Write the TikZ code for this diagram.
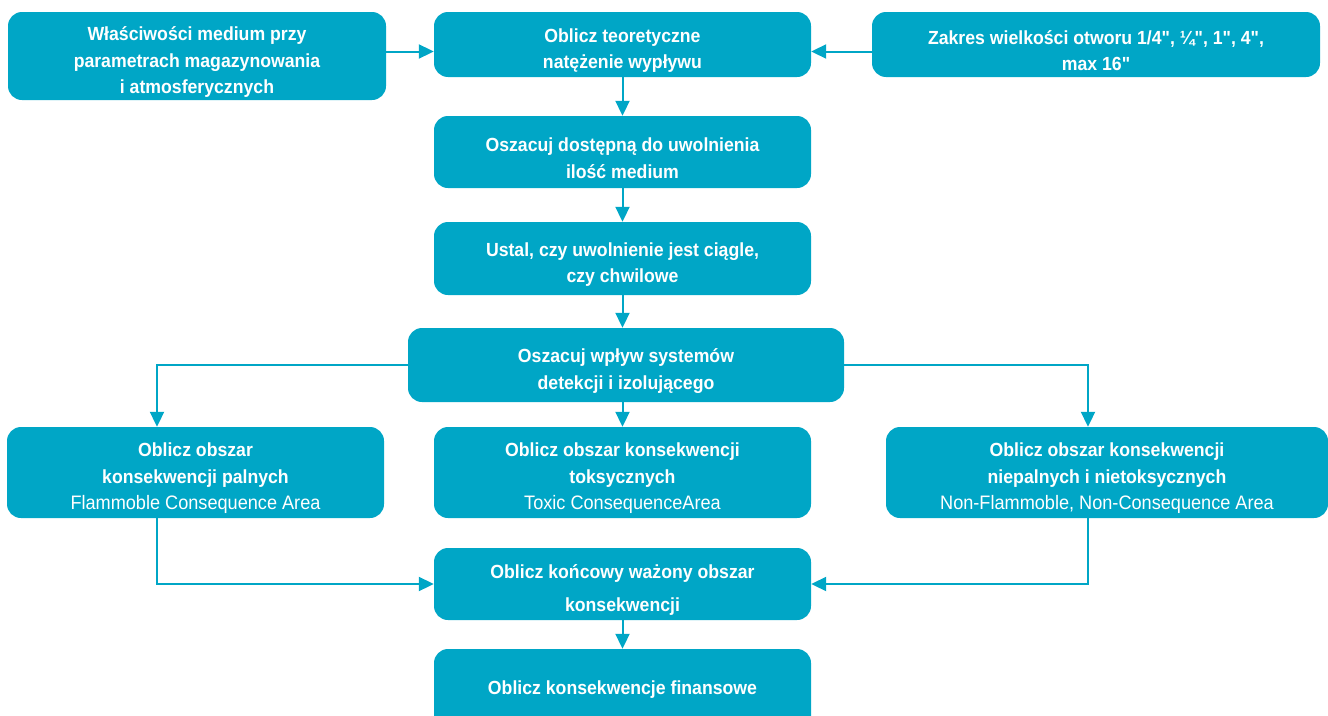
\documentclass[tikz,border=0pt]{standalone}
\usepackage{fontspec}
\setmainfont{Liberation Sans}[FakeStretch=0.93, Ligatures=TeXOff]
\usetikzlibrary{arrows.meta}
\definecolor{morski}{HTML}{00A6C6}
\newcommand{\angtekst}[1]{{\fontsize{19.5}{27}\selectfont\mdseries #1}}
\newcommand{\gora}{\rule{0pt}{26pt}}

\begin{document}
\begin{tikzpicture}[x=1pt,y=-1pt,
	blok/.style={rectangle, rounded corners=14pt, fill=morski, text=white, align=center,
		inner sep=0pt, font=\fontsize{19}{26.5}\selectfont\bfseries},
	strzalka/.style={draw=morski, line width=2pt, -{Triangle[length=15pt,width=14pt]}}]
	\useasboundingbox (0,0) rectangle (1328,715);
	\clip (0,0) rectangle (1328,715);

	\node[blok, minimum width=378pt, minimum height=88pt] (wlasc) at (197,56)
		{\gora Właściwości medium przy\\parametrach magazynowania\\i atmosferycznych};
	\node[blok, minimum width=377pt, minimum height=65pt] (teor) at (622.5,44.5)
		{\gora Oblicz teoretyczne\\natężenie wypływu};
	\node[blok, minimum width=448pt, minimum height=65pt] (zakres) at (1096,44.5)
		{\gora Zakres wielkości otworu 1/4", ¼", 1", 4",\\max 16"};
	\node[blok, minimum width=377pt, minimum height=72pt] (oszac) at (622.5,152)
		{\gora Oszacuj dostępną do uwolnienia\\ilość medium};
	\node[blok, minimum width=377pt, minimum height=73pt] (ustal) at (622.5,258.5)
		{\gora Ustal, czy uwolnienie jest ciągle,\\czy chwilowe};
	\node[blok, minimum width=436pt, minimum height=74pt] (wplyw) at (626,365)
		{\gora Oszacuj wpływ systemów\\detekcji i izolującego};
	\node[blok, minimum width=377pt, minimum height=91pt] (palne) at (195.5,472.5)
		{\gora Oblicz obszar\\konsekwencji palnych\\\angtekst{Flammoble Consequence Area}};
	\node[blok, minimum width=377pt, minimum height=91pt] (toks) at (622.5,472.5)
		{\gora Oblicz obszar konsekwencji\\toksycznych\\\angtekst{Toxic ConsequenceArea}};
	\node[blok, minimum width=442pt, minimum height=91pt] (niepal) at (1107,472.5)
		{\gora Oblicz obszar konsekwencji\\niepalnych i nietoksycznych\\\angtekst{Non-Flammoble, Non-Consequence Area}};
	\node[blok, minimum width=377pt, minimum height=72pt] (koncowy) at (622.5,584)
		{\gora Oblicz końcowy ważony obszar\\[7pt]konsekwencji};
	\node[blok, minimum width=377pt, minimum height=82pt] (finans) at (622.5,690)
		{Oblicz konsekwencje finansowe};

	\coordinate (wejL) at ([yshift=-7pt]teor.west);
	\coordinate (wejP) at ([yshift=-7pt]teor.east);
	\coordinate (palX) at ([xshift=-38.5pt]palne.north);
	\coordinate (niepX) at ([xshift=-19pt]niepal.north);

	\draw[strzalka] (wlasc.east |- wejL) -- (wejL);
	\draw[strzalka] (zakres.west |- wejP) -- (wejP);
	\draw[strzalka] (teor.south) -- (oszac.north);
	\draw[strzalka] (oszac.south) -- (ustal.north);
	\draw[strzalka] (ustal.south) -- (ustal.south |- wplyw.north);
	\draw[strzalka] (wplyw.west) -| (palX);
	\draw[strzalka] (wplyw.east) -| (niepX);
	\draw[strzalka] (wplyw.south -| toks.north) -- (toks.north);
	\draw[strzalka] (palX |- palne.south) |- (koncowy.west);
	\draw[strzalka] (niepX |- niepal.south) |- (koncowy.east);
	\draw[strzalka] (koncowy.south) -- (finans.north);
\end{tikzpicture}
\end{document}
